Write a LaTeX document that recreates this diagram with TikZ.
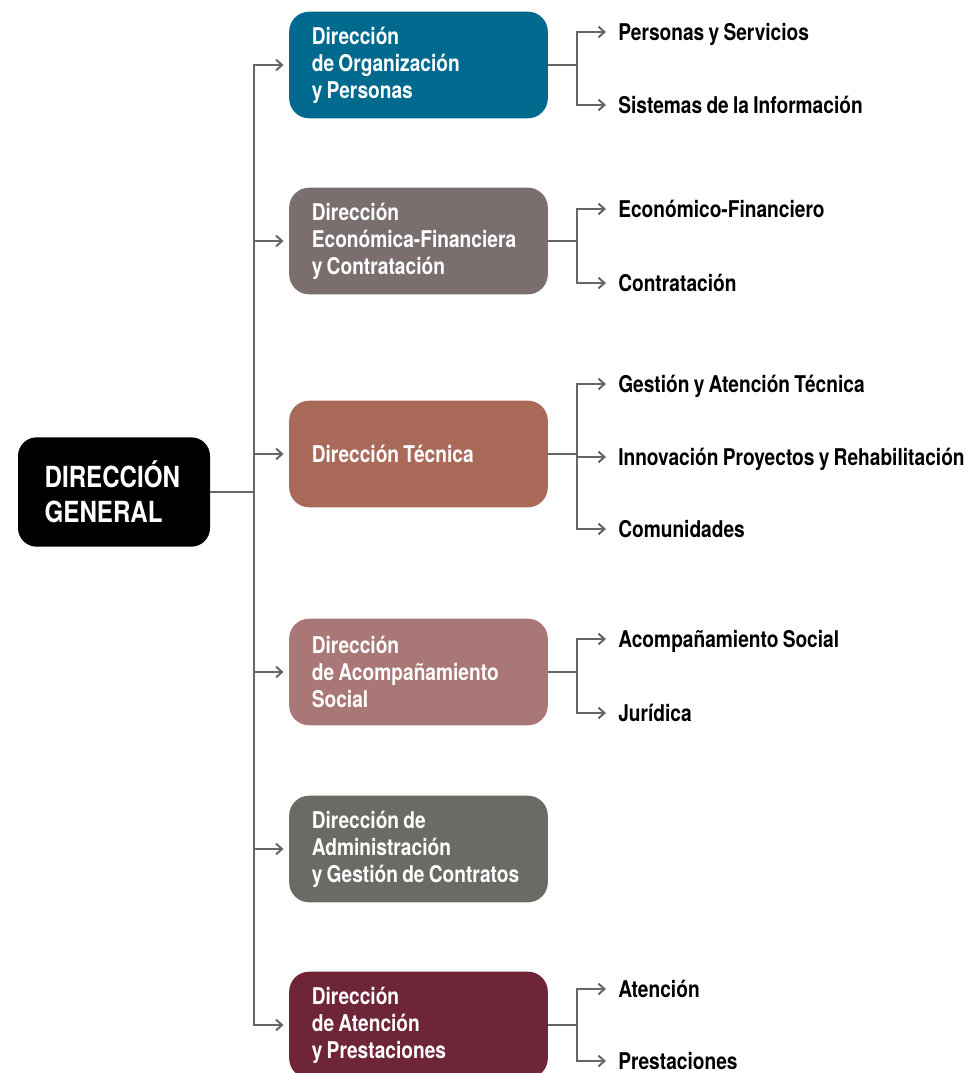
\documentclass[tikz,border=0pt]{standalone}
\usepackage{fontspec}
\setmainfont{TeX Gyre Heros}[FakeStretch=0.83, WordSpace={0.8,0,0}]
\usepackage{tikz}
\usetikzlibrary{positioning,arrows.meta}
\definecolor{orgblue}{HTML}{006A8E}
\definecolor{ecogray}{HTML}{7A6E6E}
\definecolor{tecred}{HTML}{AA6A5A}
\definecolor{socrose}{HTML}{A97775}
\definecolor{admgray}{HTML}{6B6B66}
\definecolor{atnwine}{HTML}{6E2538}
\definecolor{linegray}{HTML}{666666}
\tikzset{
  mainbox/.style={rounded corners=14pt, fill=black, text=white, minimum width=144pt, minimum height=82pt,
                  text width=104pt, inner xsep=20pt, align=left, font=\fontsize{21.8}{26}\selectfont\bfseries},
  dirbox/.style={rounded corners=15pt, text=white, minimum height=80pt, text width=160pt, inner xsep=17pt,
                 align=left, font=\fontsize{17.3}{20.25}\selectfont\bfseries,
                 execute at begin node={\spaceskip=0pt\xspaceskip=0pt\hyphenpenalty=10000\relax}},
  leaf/.style={anchor=west, inner sep=0pt, text height=12.6pt, text depth=0pt,
               font=\fontsize{17.3}{20}\selectfont\bfseries},
  link/.style={draw=linegray, line width=1.8pt},
  fwd/.style={link, -{Straight Barb[length=4.5pt, width=8pt, line width=1.5pt]}},
  org/.style={fill=orgblue},
  eco/.style={fill=ecogray},
  tec/.style={fill=tecred},
  soc/.style={fill=socrose},
  adm/.style={fill=admgray},
  atn/.style={fill=atnwine},
}
\begin{document}
\begin{tikzpicture}[x=0.75pt, y=-0.75pt]
  \useasboundingbox (0,0) rectangle (971,1073);

  \node[mainbox] (gen) at (114,492) {DIRECCIÓN\\GENERAL};

  \node[dirbox, org] (dirA) at (418.5,65) {Dirección\\de Organización\\y Personas};
  \node[dirbox, eco] (dirB) at (418.5,241) {Dirección\\Económica-Financiera\\y Contratación};
  \node[dirbox, tec] (dirC) at (418.5,454) {Dirección Técnica};
  \node[dirbox, soc] (dirD) at (418.5,672) {Dirección\\de Acompañamiento\\Social};
  \node[dirbox, adm] (dirE) at (418.5,849) {Dirección de\\Administración\\y Gestión de Contratos};
  \node[dirbox, atn] (dirF) at (418.5,1025) {Dirección\\de Atención\\y Prestaciones};

  \node[leaf] (leafA1) at (618,32) {Personas y Servicios};
  \node[leaf] (leafA2) at (618,105) {Sistemas de la Información};
  \node[leaf] (leafB1) at (618,209) {Económico-Financiero};
  \node[leaf] (leafB2) at (618,283) {Contratación};
  \node[leaf] (leafC1) at (618,384) {Gestión y Atención Técnica};
  \node[leaf] (leafC2) at (618,457) {Innovación Proyectos y Rehabilitación};
  \node[leaf] (leafC3) at (618,529) {Comunidades};
  \node[leaf] (leafD1) at (618,639) {Acompañamiento Social};
  \node[leaf] (leafD2) at (618,713) {Jurídica};
  \node[leaf] (leafF1) at (618,989) {Atención};
  \node[leaf] (leafF2) at (618,1061) {Prestaciones};

  % trunk from the general direction
  \coordinate (trunk) at (254,492);
  \draw[link] (gen.east) -- (trunk);
  \foreach \d in {dirA,dirB,dirC,dirD,dirE,dirF}
    \draw[fwd, shorten >=4pt] (trunk) |- (\d.west);

  % branches to the units
  \foreach \d/\leaves in {dirA/{leafA1,leafA2}, dirB/{leafB1,leafB2}, dirC/{leafC1,leafC2,leafC3},
                          dirD/{leafD1,leafD2}, dirF/{leafF1,leafF2}} {
    \coordinate (br) at ([xshift=21.75pt]\d.east);
    \draw[link] (\d.east) -- (br);
    \foreach \l in \leaves
      \draw[fwd, shorten >=9pt] (br) |- (\l.west);
  }
\end{tikzpicture}
\end{document}
